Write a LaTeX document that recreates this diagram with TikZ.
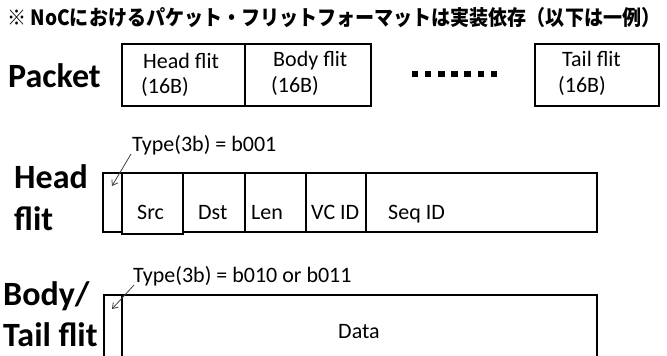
\documentclass[tikz,border=0pt]{standalone}
\usepackage{fontspec}
\setmainfont{Carlito}
\newfontfamily\jpfont{Noto Sans CJK JP}
\usetikzlibrary{arrows.meta}
\tikzset{
  cell/.style={draw, line width=2.6pt},
  biglbl/.style={font=\fontsize{34}{38}\selectfont\bfseries, anchor=base west, inner sep=0pt},
  txt/.style={font=\fontsize{22}{24}\selectfont, anchor=base west, inner sep=0pt},
  ptr/.style={draw=black!75, line width=0.8pt, -{Straight Barb[length=5pt,width=7pt]}},
  dot/.style={fill=black, draw=none, minimum size=6.5pt, inner sep=0pt, rectangle}
}
\begin{document}
\begin{tikzpicture}[x=1pt,y=-1pt]
\useasboundingbox (0,0) rectangle (667,356);
% title
\node[anchor=base west, inner sep=0pt, font=\jpfont\bfseries\fontsize{21}{24}\selectfont] (title) at (7,26)
  {\resizebox{653pt}{\height}{※ NoCにおけるパケット・フリットフォーマットは実装依存（以下は一例）}};

% Packet row
\node[biglbl] (lpacket) at (8,87) {Packet};
\draw[cell] (122,44) rectangle (245,106);
\draw[cell] (245,44) rectangle (371,106);
\draw[cell] (535,44) rectangle (659,106);
\node[txt] (hf1) at (143,68) {Head flit};
\node[txt] (hf2) at (141,93) {(16B)};
\node[txt] (bf1) at (273,66) {Body flit};
\node[txt] (bf2) at (271,92) {(16B)};
\node[txt] (tf1) at (562,66) {Tail flit};
\node[txt] (tf2) at (558,92) {(16B)};
\foreach \i in {0,...,6} {
  \node[dot] (d\i) at ({415+13.15*\i},74) {};
}

% Head flit row
\node[biglbl] (lhead1) at (14,188) {Head};
\node[biglbl] (lhead2) at (14,230) {flit};
\draw[cell] (103,173) rectangle (122,232);
\draw[cell] (122,173) rectangle (183,234);
\draw[cell] (183,173) rectangle (245,232);
\draw[cell] (245,173) rectangle (306,232);
\draw[cell] (306,173) rectangle (366,232);
\draw[cell] (366,173) rectangle (597,232);
\node[txt] (src) at (137,219) {Src};
\node[txt] (dst) at (198,219) {Dst};
\node[txt] (len) at (251,219) {Len};
\node[txt] (vcid) at (311,219) {VC ID};
\node[txt] (seqid) at (388,219) {Seq ID};
\node[txt] (type1) at (132,151) {Type(3b) = b001};
\coordinate (a1s) at (131,154);
\coordinate (a1e) at (112,186);
\draw[ptr] (a1s) -- (a1e);

% Body/Tail flit row
\node[biglbl] (lbody1) at (3,305) {Body/};
\node[biglbl] (lbody2) at (3,346) {Tail flit};
\draw[cell] (104,295) rectangle (122,357);
\draw[cell] (122,295) rectangle (597,357);
\node[font=\fontsize{22}{24}\selectfont, anchor=base, inner sep=0pt] (data) at (359,338) {Data};
\node[txt] (type2) at (133,282) {Type(3b) = b010 or b011};
\coordinate (a2s) at (134,285);
\coordinate (a2e) at (112,309);
\draw[ptr] (a2s) -- (a2e);
\end{tikzpicture}
\end{document}
